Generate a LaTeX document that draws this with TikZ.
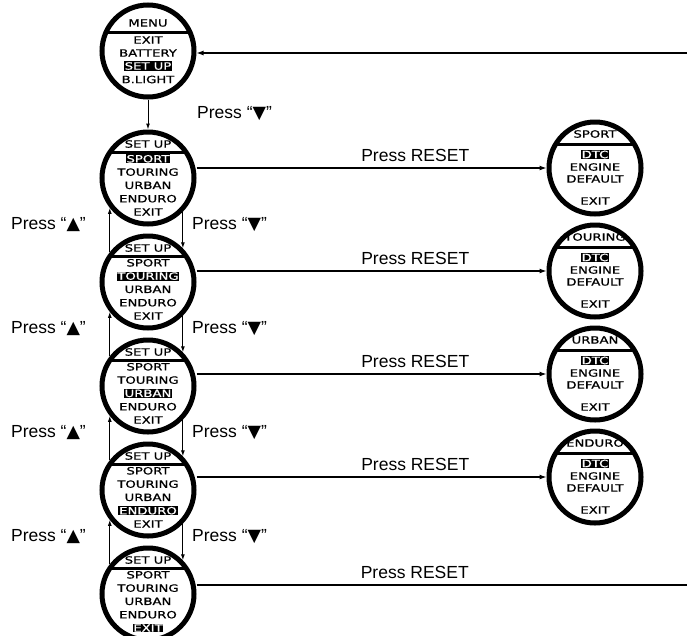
\documentclass[tikz,border=0pt]{standalone}
\usepackage{fontspec}
\setmainfont{Liberation Sans}
\newfontfamily\lcdfont[FakeStretch=1.32, FakeBold=0.9]{DejaVu Sans}
\newfontfamily\tri{DejaVu Sans}
\usetikzlibrary{arrows.meta, calc}

\newcommand{\dn}{{\tri ▼}}
\newcommand{\up}{{\tri ▲}}

\tikzset{
  watch/.style={circle, draw, line width=5pt, minimum size=92pt, inner sep=0pt},
  lcd/.style={inner sep=0.8pt, font=\lcdfont\fontsize{10}{11}\selectfont},
  lcdsel/.style={lcd, fill=black, text=white},
  bar/.style={line width=3pt},
  press/.style={inner sep=0pt, font=\fontsize{17.5}{19}\selectfont},
  link/.style={line width=1.2pt, -{Latex[length=7pt,width=5pt]}},
  vlink/.style={line width=1pt, -{Latex[length=6pt,width=4pt]}}
}

\begin{document}
\begin{tikzpicture}[x=1pt, y=-1pt]
  \useasboundingbox (0,0) rectangle (687,635);

  % menu
  \begin{scope}[shift={(148,51)}]
    \node[lcd] at (0,-28) {MENU};
    \draw[bar] (-41,-19) -- (41,-19);
    \node[lcd] at (0,-11) {EXIT};
    \node[lcd] at (0,2) {BATTERY};
    \node[lcdsel] at (0,15) {SET UP};
    \node[lcd] at (0,28.5) {B.LIGHT};
    \node[watch] (m) at (0,0) {};
  \end{scope}

  % set up screens
  \foreach \i/\y in {1/178,2/282,3/386,4/490,5/594}{
    \begin{scope}[shift={(148,\y)}]
      \node[lcd] at (0,-34) {SET UP};
      \draw[bar] (-38,-25.5) -- (38,-25.5);
      \foreach \t [count=\k] in {SPORT,TOURING,URBAN,ENDURO,EXIT}{
        \ifnum\k=\i \node[lcdsel] at (0,-32.5+13.3*\k) {\t};
        \else \node[lcd] at (0,-32.5+13.3*\k) {\t}; \fi
      }
      \node[watch] (s\i) at (0,0) {};
    \end{scope}
  }

  % reset screens
  \foreach \i/\t/\y in {1/SPORT/168,2/TOURING/271,3/URBAN/374,4/ENDURO/477}{
    \begin{scope}[shift={(595,\y)}]
      \node[lcd] at (0,-34) {\t};
      \draw[bar] (-40,-24) -- (40,-24);
      \node[lcdsel] at (0,-13.5) {DTC};
      \node[lcd] at (0,-1) {ENGINE};
      \node[lcd] at (0,11) {DEFAULT};
      \node[lcd] at (0,33) {EXIT};
      \node[watch] (r\i) at (0,0) {};
    \end{scope}
  }

  % menu arrows
  \coordinate (back) at (687,53);
  \draw[link] (back) -- (back -| m.east);
  \draw[vlink] (m.south) -- (s1.north);
  \node[press, anchor=west] (pdown0) at (197,114) {Press “\dn”};

  % up / down between screens
  \foreach \a/\b/\y in {1/2/225,2/3/329,3/4/433,4/5/537}{
    \draw[vlink] (s\b.142) -- (s\a.-142);
    \draw[vlink] (s\a.-44) -- (s\b.44);
    \node[press, anchor=east] (pup\a) at (86,\y) {Press “\up”};
    \node[press, anchor=west] (pdown\a) at (192,\y) {Press “\dn”};
  }

  % press reset
  \foreach \i in {1,...,4}{
    \draw[link] (r\i.west -| s\i.east) -- (r\i.west)
      node[press, pos=0.625, above=6pt] (reset\i) {Press RESET};
  }
  \coordinate (out) at (687,585);
  \draw[line width=1.2pt] (out -| s5.east) -- (out)
    node[press, pos=0.445, above=6pt] (reset5) {Press RESET};
\end{tikzpicture}
\end{document}
